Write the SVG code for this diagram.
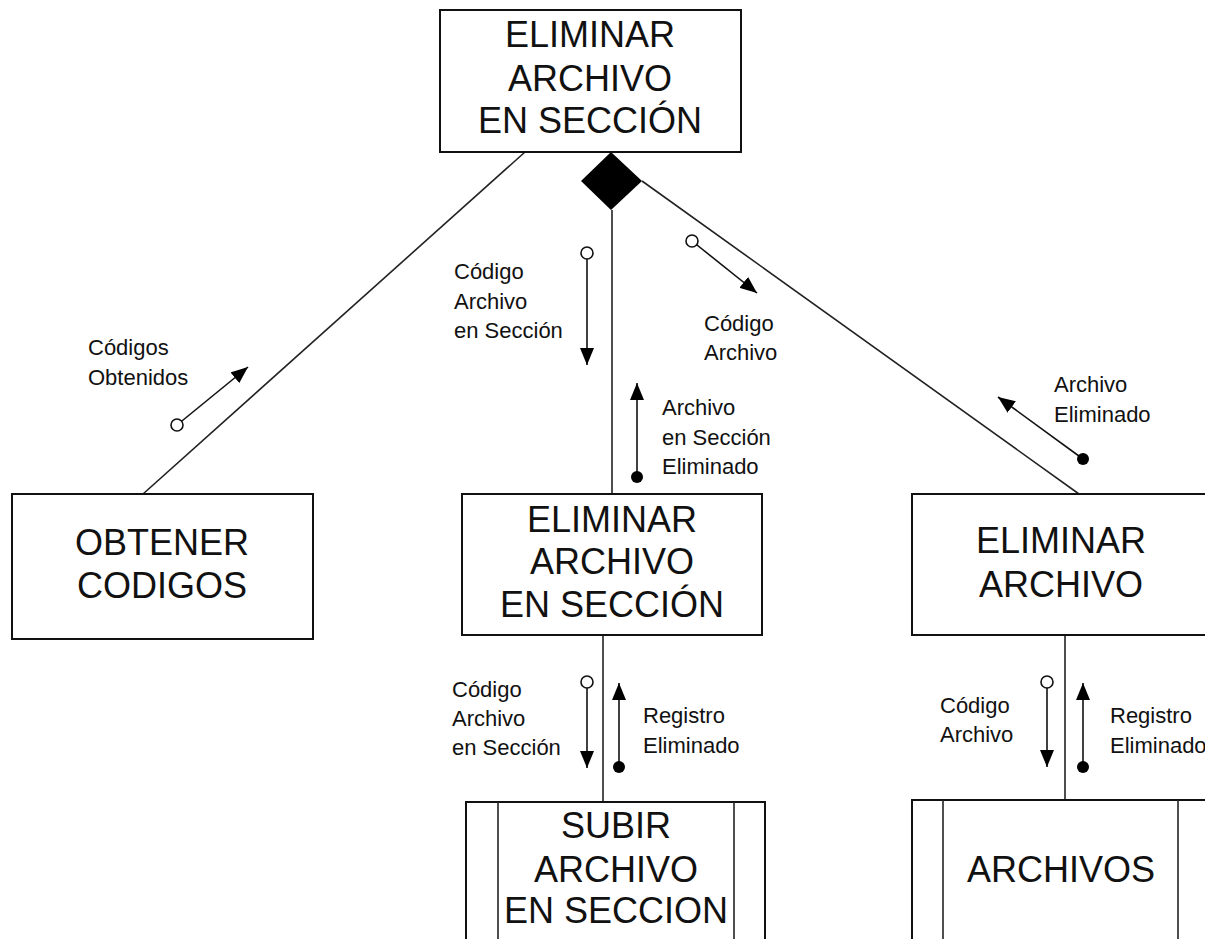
<svg xmlns="http://www.w3.org/2000/svg" width="1205" height="939" viewBox="0 0 1205 939">
<style>
.box{fill:#fff;stroke:#111;stroke-width:2}
.ln{stroke:#222;stroke-width:1.6;fill:none}
.fl{stroke:#111;stroke-width:1.6;fill:none;marker-end:url(#ah)}
.oc{fill:#fff;stroke:#111;stroke-width:1.6}
.dc{fill:#000}
.big{font-family:"Liberation Sans",Arial,sans-serif;font-size:36px;fill:#111;text-anchor:middle}
.sm{font-family:"Liberation Sans",Arial,sans-serif;font-size:22px;fill:#111}
</style>
<defs>
<marker id="ah" viewBox="0 0 17 14" refX="17" refY="7" markerWidth="17" markerHeight="14" markerUnits="userSpaceOnUse" orient="auto">
<path d="M0,0 L17,7 L0,14 z" fill="#000"/>
</marker>
</defs>
<rect width="1205" height="939" fill="#fff"/>
<g id="connectors">
<line class="ln" x1="525" y1="152" x2="143" y2="494"/>
<line class="ln" x1="612" y1="210" x2="612" y2="494"/>
<line class="ln" x1="642" y1="181" x2="1079" y2="494"/>
<polygon points="611,152 642,181 611,210 581,181" fill="#000"/>
<line class="ln" x1="603" y1="635" x2="603" y2="802"/>
<line class="ln" x1="1065" y1="635" x2="1065" y2="800"/>
<line class="fl" x1="177" y1="425" x2="248" y2="367"/>
<circle class="oc" cx="177" cy="425" r="6"/>
<text class="sm" x="88" y="355">Códigos</text>
<text class="sm" x="88" y="385">Obtenidos</text>

<line class="fl" x1="587" y1="253" x2="587" y2="365"/>
<circle class="oc" cx="587" cy="253" r="6"/>
<text class="sm" x="454" y="279">Código</text>
<text class="sm" x="454" y="309">Archivo</text>
<text class="sm" x="454" y="338">en Sección</text>

<line class="fl" x1="637" y1="477" x2="637" y2="383"/>
<circle class="dc" cx="637" cy="477" r="6"/>
<text class="sm" x="662" y="415">Archivo</text>
<text class="sm" x="662" y="445">en Sección</text>
<text class="sm" x="662" y="474">Eliminado</text>

<line class="fl" x1="692" y1="241" x2="757" y2="293"/>
<circle class="oc" cx="692" cy="241" r="6"/>
<text class="sm" x="704" y="331">Código</text>
<text class="sm" x="704" y="360">Archivo</text>

<line class="fl" x1="1083" y1="459" x2="998" y2="397"/>
<circle class="dc" cx="1083" cy="459" r="6"/>
<text class="sm" x="1054" y="392">Archivo</text>
<text class="sm" x="1054" y="422">Eliminado</text>

<line class="fl" x1="587" y1="682" x2="587" y2="768"/>
<circle class="oc" cx="587" cy="682" r="6"/>
<text class="sm" x="452" y="697">Código</text>
<text class="sm" x="452" y="726">Archivo</text>
<text class="sm" x="452" y="755">en Sección</text>

<line class="fl" x1="619" y1="767" x2="619" y2="683"/>
<circle class="dc" cx="619" cy="767" r="6"/>
<text class="sm" x="643" y="723">Registro</text>
<text class="sm" x="643" y="753">Eliminado</text>

<line class="fl" x1="1047" y1="682" x2="1047" y2="767"/>
<circle class="oc" cx="1047" cy="682" r="6"/>
<text class="sm" x="940" y="713">Código</text>
<text class="sm" x="940" y="742">Archivo</text>

<line class="fl" x1="1083" y1="767" x2="1083" y2="683"/>
<circle class="dc" cx="1083" cy="767" r="6"/>
<text class="sm" x="1110" y="723">Registro</text>
<text class="sm" x="1110" y="753">Eliminado</text>
</g>
<g id="n_top">
<rect class="box" x="440" y="10" width="301" height="142"/>
<text class="big" x="590" y="47">ELIMINAR</text>
<text class="big" x="590" y="91">ARCHIVO</text>
<text class="big" x="590" y="133">EN SECCIÓN</text>
</g>
<g id="n_obtener">
<rect class="box" x="12" y="494" width="301" height="145"/>
<text class="big" x="162" y="555">OBTENER</text>
<text class="big" x="162" y="598">CODIGOS</text>
</g>
<g id="n_mid">
<rect class="box" x="462" y="494" width="300" height="141"/>
<text class="big" x="612" y="532">ELIMINAR</text>
<text class="big" x="612" y="574">ARCHIVO</text>
<text class="big" x="612" y="617">EN SECCIÓN</text>
</g>
<g id="n_right">
<rect class="box" x="912" y="494" width="310" height="141"/>
<text class="big" x="1061" y="553">ELIMINAR</text>
<text class="big" x="1061" y="597">ARCHIVO</text>
</g>
<g id="n_subir">
<rect class="box" x="466" y="802" width="299" height="160"/>
<line class="ln" x1="498" y1="802" x2="498" y2="939"/>
<line class="ln" x1="734" y1="802" x2="734" y2="939"/>
<text class="big" x="616" y="838">SUBIR</text>
<text class="big" x="616" y="882">ARCHIVO</text>
<text class="big" x="616" y="923">EN SECCION</text>
</g>
<g id="n_archivos">
<rect class="box" x="912" y="800" width="310" height="160"/>
<line class="ln" x1="943" y1="800" x2="943" y2="939"/>
<line class="ln" x1="1178" y1="800" x2="1178" y2="939"/>
<text class="big" x="1061" y="882">ARCHIVOS</text>
</g>
</svg>
